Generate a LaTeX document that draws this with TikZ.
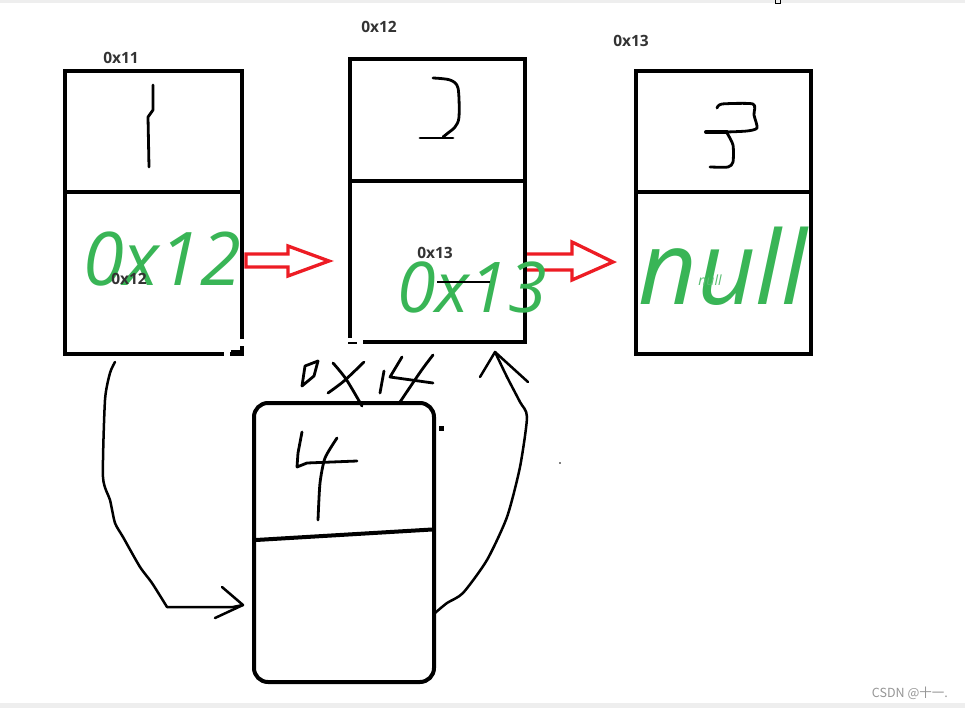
\documentclass[tikz,border=0pt]{standalone}
\usepackage{fontspec}
\setmainfont{Open Sans}
\newfontfamily\cjkfont{Noto Sans CJK SC}
\definecolor{mygreen}{RGB}{57,181,86}
\definecolor{lightgreen}{RGB}{90,190,115}
\definecolor{myred}{RGB}{237,28,36}
\definecolor{labelgray}{RGB}{51,51,51}
\definecolor{bargray}{RGB}{238,238,238}
\definecolor{wmgray}{RGB}{150,150,150}
\begin{document}
\begin{tikzpicture}[x=1pt,y=-1pt,
  memcell/.style={draw=black, line width=4pt, inner sep=0pt, outer sep=0pt, fill=none},
  divider/.style={line width=4pt},
  hand/.style={line width=2.8pt, line cap=round, line join=round},
  addr/.style={font=\bfseries\fontsize{15.5}{15.5}\selectfont, text=labelgray, inner sep=0pt, anchor=base},
  bigval/.style={font=\itshape\fontsize{74}{74}\selectfont, text=mygreen, inner sep=0pt, anchor=base},
  blockarrow/.style={draw=myred, line width=3.3pt, line join=miter},
]
\fill[white] (0,0) rectangle (965,708);
\useasboundingbox (0,0) rectangle (965,708);
% window bars
\fill[bargray] (0,0) rectangle (965,3);
\fill[bargray] (0,703) rectangle (965,708);
\draw[line width=1pt] (775,-1) rectangle (780,4);

% red block arrows
\draw[blockarrow] (246,254) -- (288,254) -- (288,246) -- (329,261) -- (288,276) -- (288,267) -- (246,267) -- cycle;
\draw[blockarrow] (525,254) -- (572,254) -- (572,242) -- (613,262) -- (572,280) -- (572,270) -- (525,270) -- cycle;

% memory cells
\node[memcell, minimum width=177pt, minimum height=283pt] (box1) at (153.5,212.5) {};
\node[memcell, minimum width=175pt, minimum height=283pt] (box2) at (437.5,200.5) {};
\node[memcell, minimum width=175pt, minimum height=283pt] (box3) at (723.5,212.5) {};
\node[memcell, minimum width=180pt, minimum height=279pt, rounded corners=14pt] (box4) at (344,542.5) {};

\draw[divider] (box1.west |- 0,192) -- (box1.east |- 0,192);
\draw[divider] (box2.west |- 0,181) -- (box2.east |- 0,181);
\draw[divider] (box3.west |- 0,192) -- (box3.east |- 0,192);
\draw[divider] (256,540) -- (432,529.5);

% small gaps of the hand drawing
\fill[white] (224,350) rectangle (230,357);
\fill[white] (236,339) rectangle (245,346);
\draw[line width=3pt] (231,351) -- (241,351);
\fill[white] (345,338) rectangle (363,346);
\draw[line width=2.5pt] (348,343) -- (357,343);

% handwritten digits
\draw[hand] (153,85) -- (153,110) -- (148,117) -- (149,167);
\draw[hand] plot[smooth, tension=0.5] coordinates {(433,78) (450,80) (458,88) (459,117) (455,127) (448,133) (443,137)};
\draw[hand] (420,138) -- (453,138);
\draw[hand] plot[smooth, tension=0.4] coordinates {(717,108) (722,104) (753,104) (754,115) (757,128) (747,131) (727,132)};
\draw[line width=4pt, line cap=round] (727,132) -- (706,132);
\draw[hand] plot[smooth, tension=0.4] coordinates {(727,133) (733,145) (733,162) (728,167) (710,167)};
\draw[hand] (302,432) -- (298,453) -- (297,467) -- (307,463) -- (357,461);
\draw[hand] plot[smooth, tension=0.4] coordinates {(337,438) (325,458) (320,483) (318,520)};

% handwritten 0X14
\draw[hand] (302,386) -- (305,366) -- (318,361) -- (314,376) -- cycle;
\draw[hand] plot[smooth, tension=0.5] coordinates {(333,363) (346,379) (362,406)};
\draw[hand] plot[smooth, tension=0.5] coordinates {(328,393) (344,381) (364,362)};
\draw[hand] (384,371) -- (380,393);
\draw[hand] (402,357) -- (390,377) -- (433,383);
\draw[hand] plot[smooth, tension=0.5] coordinates {(433,355) (421,371) (400,402)};

% stray dots
\fill (438.5,425.5) rectangle (443.5,430.5);
\fill (560,463) circle (0.8pt);

% curved connectors
\coordinate (l1start) at (115,362);
\coordinate (l1tip) at (243,605);
\draw[hand, line width=2.5pt] plot[smooth, tension=0.4] coordinates {(l1start) (110,373) (105,400) (103,477) (110,500) (115,523) (123,537) (140,567) (152,583) (167,607)};
\draw[hand, line width=2.5pt] (167,607) -- (233,607) -- (l1tip);
\draw[hand, line width=2.5pt] (222,587) -- (l1tip) -- (215,618);

\coordinate (r1start) at (435,613);
\coordinate (r1tip) at (495,352);
\draw[hand, line width=2.5pt] plot[smooth, tension=0.4] coordinates {(r1start) (447,603) (463,593) (487,560) (507,517) (520,467) (527,417) (520,402) (507,377) (r1tip)};
\draw[hand, line width=2.5pt] (480,377) -- (r1tip) -- (528,382);

% green values
\node[bigval] (v1) at (162,285) {0x12};
\node[bigval, font=\itshape\fontsize{70}{70}\selectfont] (v2) at (472,312) {0x13};
\node[bigval, font=\itshape\fontsize{102}{102}\selectfont] (v3) at (723,305) {null};

% address labels
\node[addr] (a1) at (121,64) {0x11};
\node[addr] (a2) at (379,33) {0x12};
\node[addr] (a3) at (631,47) {0x13};
\node[addr] (n1) at (129,284) {0x12};
\node[addr] (n2) at (435,259) {0x13};
\draw[line width=2pt] (437,282) -- (490,282);
\node[font=\itshape\fontsize{14}{14}\selectfont, text=lightgreen, inner sep=0pt, anchor=base] (n3) at (710,285) {null};

% watermark
\node[font=\cjkfont\fontsize{12.5}{12.5}\selectfont, text=wmgray, inner sep=0pt, anchor=base east] (wm) at (948,697) {CSDN @十一.};
\end{tikzpicture}
\end{document}
